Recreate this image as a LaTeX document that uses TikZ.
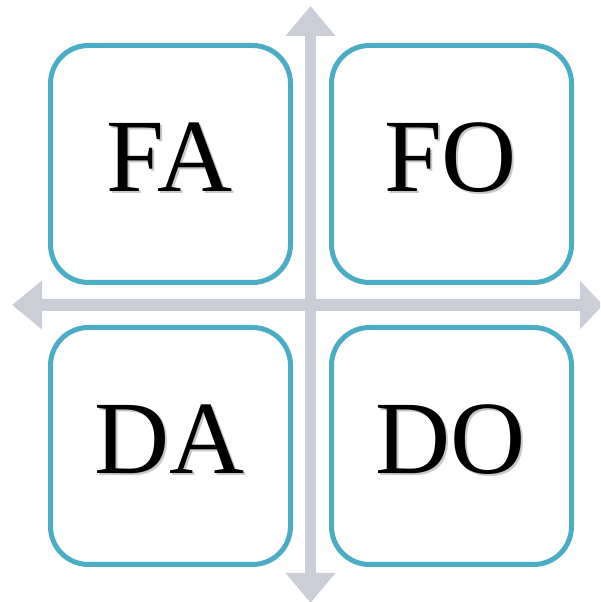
\documentclass[tikz,border=0pt]{standalone}
\usepackage{fontspec}
\setmainfont{Liberation Serif}
\usetikzlibrary{arrows.meta}
\definecolor{cellline}{RGB}{75,172,198}
\definecolor{axisgray}{RGB}{203,205,215}
\definecolor{wordshade}{RGB}{200,200,200}
\tikzset{
  cell/.style={draw=cellline, line width=5pt, fill=white, rounded corners=38pt,
    minimum width=240pt, minimum height=237pt, inner sep=0pt},
  word/.style={font=\fontsize{104}{104}\selectfont, text=black, inner sep=0pt},
  axis/.style={draw=axisgray, line cap=butt},
}
% a label with a soft grey drop shadow set behind it
\newcommand{\shadedword}[1]{%
  \rlap{\kern2pt\raisebox{-2pt}{\textcolor{wordshade}{#1}}}#1}
\newcommand{\cellword}[2]{%
  \node[word] (#1-text) at ([xshift=-1pt,yshift=5.5pt]#1.center) {\shadedword{#2}};
}
\begin{document}
\begin{tikzpicture}[x=1pt,y=1pt]
  \useasboundingbox (0,0) rectangle (600,602);
  \clip (0,0) rectangle (600,602);
  % axis end points
  \coordinate (vtop) at (310.5,596);
  \coordinate (vbot) at (310.5,-1);
  \coordinate (hleft) at (12,297);
  \coordinate (hright) at (603,297);
  % the two double-headed axes
  \draw[axis, line width=11pt,
    {Triangle[width=48pt,length=30pt]}-{Triangle[width=48pt,length=30pt]}] (vtop) -- (vbot);
  \draw[axis, line width=12pt,
    {Triangle[width=47pt,length=30pt]}-{Triangle[width=47pt,length=23pt]}] (hleft) -- (hright);
  % quadrant boxes
  \node[cell] (fa) at (170.5,438) {};
  \node[cell] (fo) at (451.5,438) {};
  \node[cell] (da) at (170.5,156) {};
  \node[cell] (do) at (451.5,156) {};
  % quadrant labels
  \cellword{fa}{FA}
  \cellword{fo}{FO}
  \cellword{da}{DA}
  \cellword{do}{DO}
\end{tikzpicture}
\end{document}
